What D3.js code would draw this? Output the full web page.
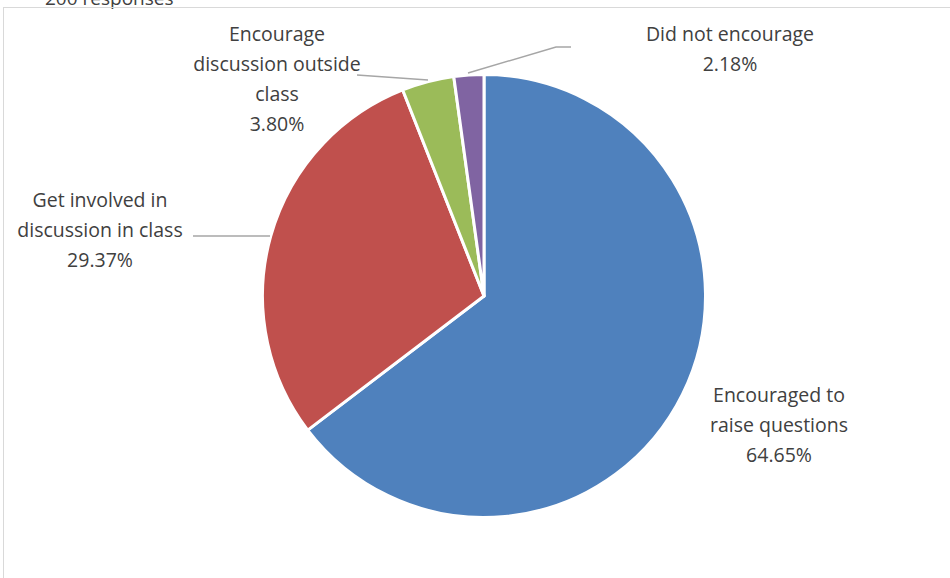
<!DOCTYPE html>
<html><head><meta charset="utf-8">
<script src="https://cdn.jsdelivr.net/npm/d3@7"></script>
<style>body{margin:0;background:#fff}svg{display:block}</style>
</head><body>
<svg id="c" width="950" height="578"></svg>
<script>
const categories = ["Encouraged to raise questions","Get involved in discussion in class","Encourage discussion outside class","Did not encourage"];
const values = [64.65, 29.37, 3.80, 2.18];
const labelLines = [["Encouraged to","raise questions","64.65%"],["Get involved in","discussion in class","29.37%"],["Encourage","discussion outside","class","3.80%"],["Did not encourage","2.18%"]];
const colors = ["#4F81BD","#C0504D","#9BBB59","#8064A2"];

const svg = d3.select("#c");
svg.append("text").attr("x",45).attr("y",5).attr("font-family","Open Sans, sans-serif").attr("font-size",19).attr("fill","#404040").text("200 responses");
svg.append("rect").attr("x",3.5).attr("y",7.5).attr("width",960).attr("height",600).attr("fill","none").attr("stroke","#d9d9d9").attr("stroke-width",1);

const cx=484, cy=296, r=221.5;
const pie = d3.pie().sort(null).value(d=>d)(values);
const arc = d3.arc().innerRadius(0).outerRadius(r);
const g = svg.append("g").attr("transform",`translate(${cx},${cy})`);
g.selectAll("path").data(pie).join("path").attr("d",arc).attr("fill",(d,i)=>colors[i]).attr("stroke","#fff").attr("stroke-width",3).attr("stroke-linejoin","round");

// leader lines
const leaders = [null, [[193,236],[270,236]], [[357,75],[428,80]], [[468,73],[556,47],[571,47]]];
leaders.forEach(l=>{ if(!l) return; svg.append("path").attr("d",d3.line()(l)).attr("fill","none").attr("stroke","#a6a6a6").attr("stroke-width",1.5);});

const labelPos = [[779,395],[100,200],[277,34],[730,34]];
labelLines.forEach((lines,i)=>{
  const t = svg.append("text").attr("font-family","Open Sans, sans-serif").attr("font-size",19.5).attr("fill","#404040").attr("text-anchor","middle");
  lines.forEach((s,j)=>t.append("tspan").attr("x",labelPos[i][0]).attr("y",labelPos[i][1]+j*30).attr("dy","0.35em").text(s));
});
</script>
</body></html>
